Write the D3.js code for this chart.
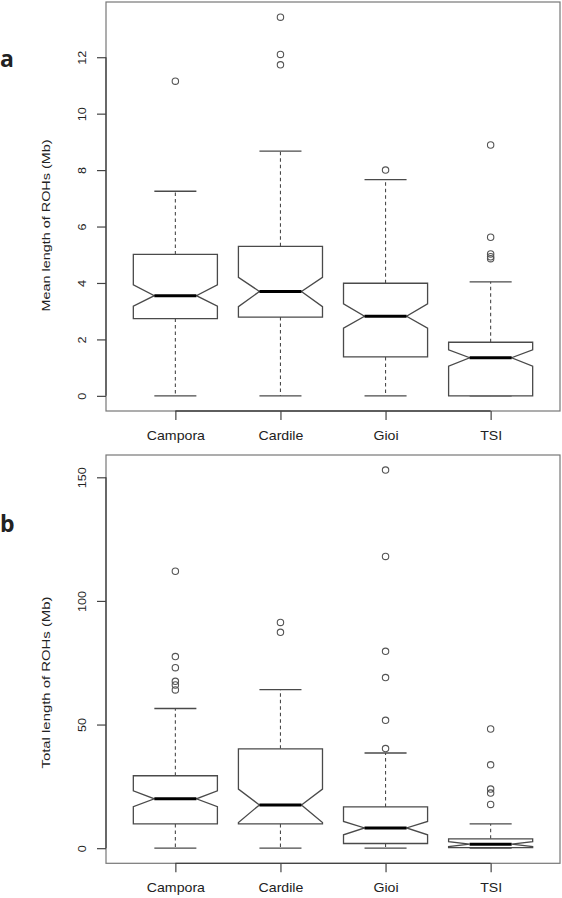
<!DOCTYPE html>
<html>
<head>
<meta charset="utf-8">
<script src="https://cdn.jsdelivr.net/npm/d3@7"></script>
<style>
  body { margin: 0; background: #fff; }
  svg { display: block; }
  text { font-family: "Liberation Sans", Arial, Helvetica, sans-serif; fill: #222; }
</style>
</head>
<body>
<svg id="chart" width="562" height="898"></svg>
<script>
// ---------- DATA ----------
const categories = ["Campora", "Cardile", "Gioi", "TSI"];

// Panel a: Mean length of ROHs (Mb)
const meanWhiskerLo = [0, 0, 0, 0];
const meanQ1        = [2.74, 2.79, 1.38, 0.00];
const meanMedian    = [3.55, 3.70, 2.82, 1.35];
const meanQ3        = [5.01, 5.30, 3.99, 1.90];
const meanNotchLo   = [3.18, 3.16, 2.40, 1.05];
const meanNotchHi   = [3.93, 4.20, 3.26, 1.63];
const meanWhiskerHi = [7.25, 8.67, 7.66, 4.04];
const meanOutliers  = [[11.15], [13.42, 12.10, 11.73], [8.00], [8.89, 5.62, 5.03, 4.93, 4.86]];
const meanTicks     = [0, 2, 4, 6, 8, 10, 12];

// Panel b: Total length of ROHs (Mb)
const totWhiskerLo = [0, 0, 0, 0];
const totQ1        = [9.8, 9.8, 1.9, 0.25];
const totMedian    = [19.95, 17.5, 8.2, 1.6];
const totQ3        = [29.3, 40.2, 16.7, 3.8];
const totNotchLo   = [16.8, 10.4, 5.4, 0.6];
const totNotchHi   = [23.2, 23.9, 10.8, 2.6];
const totWhiskerHi = [56.5, 64.1, 38.5, 9.8];
const totOutliers  = [[112, 77.5, 73, 67.5, 66, 64], [91.3, 87.3], [152.9, 118, 79.6, 69, 51.7, 40.3], [48.2, 33.7, 23.9, 22.3, 17.7]];
const totTicks     = [0, 50, 100, 150];

const panelLetters = ["a", "b"];
const yTitles = ["Mean length of ROHs (Mb)", "Total length of ROHs (Mb)"];

// ---------- LAYOUT ----------
const svg = d3.select("#chart");
const LINE = "#4a4a4a";

function buildStats(wl, q1, med, q3, nlo, nhi, wh, outs) {
  return categories.map((c, i) => ({
    cat: c, wl: wl[i], q1: q1[i], med: med[i], q3: q3[i],
    nlo: nlo[i], nhi: nhi[i], wh: wh[i], outs: outs[i]
  }));
}

const panels = [
  { stats: buildStats(meanWhiskerLo, meanQ1, meanMedian, meanQ3, meanNotchLo, meanNotchHi, meanWhiskerHi, meanOutliers),
    ticks: meanTicks, top: 2, bottom: 411, titleY: 225.5, letterY: 67, letter: panelLetters[0], title: yTitles[0] },
  { stats: buildStats(totWhiskerLo, totQ1, totMedian, totQ3, totNotchLo, totNotchHi, totWhiskerHi, totOutliers),
    ticks: totTicks, top: 455, bottom: 863.3, titleY: 682.5, letterY: 532, letter: panelLetters[1], title: yTitles[1] }
];

const left = 106, right = 560;

panels.forEach(p => {
  // R-style 4% extension of data range
  const allVals = p.stats.flatMap(s => [s.wl, s.wh, ...s.outs]);
  const lo = d3.min(allVals), hi = d3.max(allVals);
  const pad = (hi - lo) * 0.04;
  const y = d3.scaleLinear().domain([lo - pad, hi + pad]).range([p.bottom, p.top]);
  const xpad = 4 * 0.04; // 0.5..4.5 extended by 4%
  const x = d3.scaleLinear().domain([0.5 - xpad * 1, 4.5 + xpad * 1]).range([left, right]);
  const unit = x(2) - x(1);
  const halfW = unit * 0.8 / 2;
  const capW = halfW * 0.5;

  const g = svg.append("g");

  // frame
  g.append("rect")
    .attr("x", left).attr("y", p.top)
    .attr("width", right - left).attr("height", p.bottom - p.top)
    .attr("fill", "none").attr("stroke", "#777").attr("stroke-width", 1.2);

  // y axis
  const yAxis = d3.axisLeft(y).tickValues(p.ticks).tickSize(9).tickFormat(d3.format("d"));
  const ya = g.append("g").attr("transform", `translate(${left},0)`).call(yAxis);
  ya.select(".domain").attr("d", `M0,${y(p.ticks[0])}V${y(p.ticks[p.ticks.length - 1])}`)
    .attr("stroke", "#444").attr("stroke-width", 1.3);
  ya.selectAll(".tick line").attr("stroke", "#444").attr("stroke-width", 1.2);
  ya.selectAll(".tick text")
    .attr("x", null).attr("y", null).attr("dy", null)
    .attr("transform", "translate(-20,0) rotate(-90) scale(1.15,1)")
    .attr("text-anchor", "middle")
    .style("font-size", "11px")
    .style("font-family", "'Liberation Sans', Arial, sans-serif")
    .attr("fill", "#222");

  // x axis
  const xAxis = d3.axisBottom(x).tickValues([1, 2, 3, 4]).tickSize(9).tickFormat(d => categories[d - 1]);
  const xa = g.append("g").attr("transform", `translate(0,${p.bottom})`).call(xAxis);
  xa.select(".domain").attr("d", `M${x(1)},0H${x(4)}`).attr("stroke", "#444").attr("stroke-width", 1.3);
  xa.selectAll(".tick line").attr("stroke", "#444").attr("stroke-width", 1.2);
  xa.selectAll(".tick text")
    .attr("x", null).attr("y", null).attr("dy", null)
    .attr("transform", "translate(0,29) scale(1.18,1)")
    .attr("text-anchor", "middle")
    .style("font-size", "12px")
    .style("font-family", "'Liberation Sans', Arial, sans-serif")
    .attr("fill", "#222");

  // y title
  g.append("text")
    .attr("transform", `translate(50,${p.titleY}) rotate(-90)`)
    .attr("text-anchor", "middle")
    .attr("textLength", 172).attr("lengthAdjust", "spacingAndGlyphs")
    .style("font-size", "11px")
    .text(p.title);

  // panel letter
  g.append("text")
    .attr("x", 0).attr("y", p.letterY)
    .style("font-family", "'Open Sans', 'Liberation Sans', sans-serif")
    .style("font-weight", "bold")
    .style("font-size", "23px")
    .attr("fill", "#000")
    .text(p.letter);

  // boxes
  const boxes = g.selectAll(".box").data(p.stats).join("g").attr("class", "box");
  boxes.each(function(s, i) {
    const bg = d3.select(this);
    const cx = x(i + 1);
    // whiskers (dashed)
    bg.append("line").attr("x1", cx).attr("x2", cx).attr("y1", y(s.q3)).attr("y2", y(s.wh))
      .attr("stroke", LINE).attr("stroke-width", 1.1).attr("stroke-dasharray", "3.5,3");
    bg.append("line").attr("x1", cx).attr("x2", cx).attr("y1", y(s.q1)).attr("y2", y(s.wl))
      .attr("stroke", LINE).attr("stroke-width", 1.1).attr("stroke-dasharray", "3.5,3");
    // staples
    [s.wh, s.wl].forEach(v => {
      bg.append("line").attr("x1", cx - capW).attr("x2", cx + capW).attr("y1", y(v)).attr("y2", y(v))
        .attr("stroke", LINE).attr("stroke-width", 1.3);
    });
    // notched box polygon
    const pts = [
      [cx - halfW, y(s.q1)], [cx - halfW, y(s.nlo)], [cx - halfW / 2, y(s.med)], [cx - halfW, y(s.nhi)],
      [cx - halfW, y(s.q3)], [cx + halfW, y(s.q3)], [cx + halfW, y(s.nhi)], [cx + halfW / 2, y(s.med)],
      [cx + halfW, y(s.nlo)], [cx + halfW, y(s.q1)]
    ];
    bg.append("polygon").attr("points", pts.map(d => d.join(",")).join(" "))
      .attr("fill", "#fff").attr("stroke", LINE).attr("stroke-width", 1.3).attr("stroke-linejoin", "miter");
    // median
    bg.append("line").attr("x1", cx - halfW / 2).attr("x2", cx + halfW / 2).attr("y1", y(s.med)).attr("y2", y(s.med))
      .attr("stroke", "#000").attr("stroke-width", 3);
    // outliers
    bg.selectAll("circle").data(s.outs).join("circle")
      .attr("cx", cx).attr("cy", d => y(d)).attr("r", 3.2)
      .attr("fill", "none").attr("stroke", "#555").attr("stroke-width", 1.1);
  });
});
</script>
</body>
</html>
